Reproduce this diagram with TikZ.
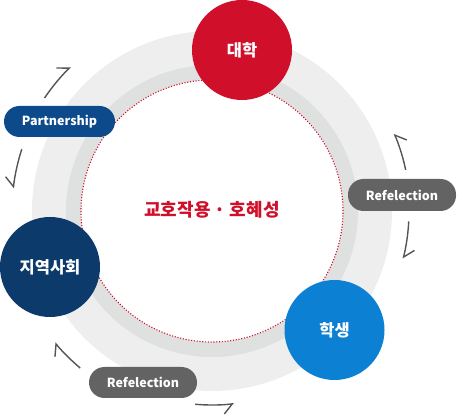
\documentclass[tikz,border=0pt]{standalone}
\usepackage{fontspec}
\setmainfont{Noto Sans CJK KR}
\usepackage{tikz}
\usetikzlibrary{arrows.meta}
\definecolor{univred}{HTML}{D0102A}
\definecolor{communitynavy}{HTML}{0B3A6B}
\definecolor{studentblue}{HTML}{0C80D2}
\definecolor{partnerblue}{HTML}{0C4A8C}
\definecolor{pillgray}{HTML}{636363}
\definecolor{ringlight}{HTML}{EEEEEE}
\definecolor{ringdark}{HTML}{DFE0E0}
\definecolor{arrowgray}{HTML}{555555}

\begin{document}
\begin{tikzpicture}[
  x=1pt,
  y=1pt,
  font=\bfseries,
  actor/.style={circle, minimum size=100pt, inner sep=0pt, text=white,
    font=\fontsize{16.5}{18}\selectfont\bfseries},
  pill/.style={rounded corners=15.5pt, minimum width=108pt, minimum height=31pt,
    inner sep=0pt, text=white, font=\fontsize{12.5}{14}\selectfont\bfseries},
  cycle/.style={draw=arrowgray, line width=1.4pt},
  cwarrow/.style={cycle, -{Straight Barb[left, length=9pt, width=18pt, line width=1.4pt]}},
  ccwarrow/.style={cycle, -{Straight Barb[right, length=9pt, width=18pt, line width=1.4pt]}}
]
\useasboundingbox (0,0) rectangle (457,417);

% rings
\coordinate (hub) at (212,206);
\fill[ringlight] (hub) circle[radius=180pt];
\fill[ringdark] (hub) circle[radius=146pt];
\fill[white] (hub) circle[radius=131pt];
\draw[univred, line width=1.1pt, dash pattern=on 1.1pt off 1.7pt]
  (hub) circle[radius=131pt];

\node[text=univred, font=\fontsize{18}{20}\selectfont\bfseries] (core) at (212,207)
  {교호작용 · 호혜성};

% partners
\node[actor, fill=univred] (univ) at (242,367) {대학};
\node[actor, fill=communitynavy] (community) at (50,150) {지역사회};
\node[actor, fill=studentblue] (student) at (334.5,87) {학생};

\node[pill, fill=partnerblue, minimum width=111pt] (partnership) at (59.5,295.5)
  {Partnership};
\node[pill, fill=pillgray, minimum height=32pt] (reflectright) at (402,222)
  {Refelection};
\node[pill, fill=pillgray] (reflectbottom) at (143,34.5) {Refelection};

% cycle arrows
\draw[cwarrow] ([shift={(146:202pt)}]hub) arc[start angle=146, end angle=134.5, radius=202pt];
\draw[ccwarrow] ([shift={(162:200pt)}]hub) arc[start angle=162, end angle=173.5, radius=200pt];
\draw[ccwarrow] ([shift={(12:198pt)}]hub) arc[start angle=12, end angle=23, radius=198pt];
\draw[cwarrow] ([shift={(-3:197pt)}]hub) arc[start angle=-3, end angle=-14, radius=197pt];
\draw[cwarrow] ([shift={(230:205pt)}]hub) arc[start angle=230, end angle=220, radius=205pt];
\draw[ccwarrow] ([shift={(265:194pt)}]hub) arc[start angle=265, end angle=276.5, radius=194pt];

\end{tikzpicture}
\end{document}
